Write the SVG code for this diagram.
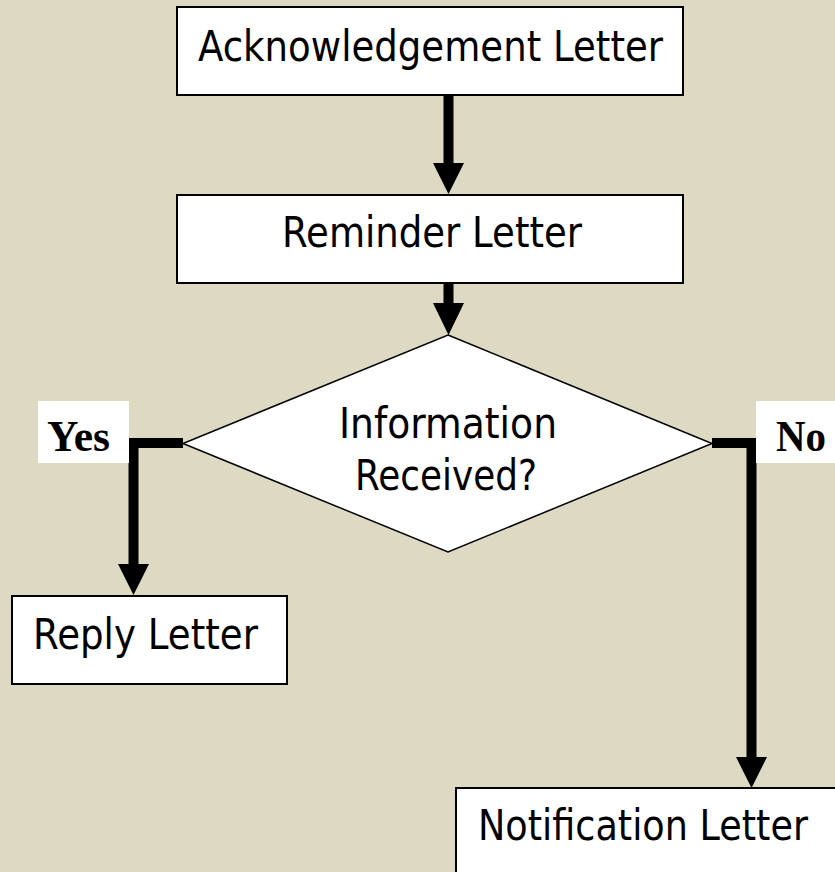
<svg xmlns="http://www.w3.org/2000/svg" width="835" height="872" viewBox="0 0 835 872">
<style>
.box{fill:#fff;stroke:#000;stroke-width:2}
.lbl{fill:#fff;stroke:none}
.t{font-family:"DejaVu Sans","Liberation Sans",sans-serif;font-size:42px;fill:#000}
.yn{font-family:"Liberation Serif","Times New Roman",serif;font-size:44px;font-weight:bold;fill:#000}
.conn{fill:none;stroke:#000;stroke-width:10}
.head{fill:#000}
</style>
<rect x="0" y="0" width="835" height="872" fill="#DDD9C3"/>
<g id="connectors">
  <line class="conn" x1="448.5" y1="95" x2="448.5" y2="165"/>
  <polygon class="head" points="433,163 464,163 448.5,194"/>
  <line class="conn" x1="448.5" y1="283" x2="448.5" y2="305"/>
  <polygon class="head" points="433,303 464,303 448.5,335"/>
  <polyline class="conn" points="183,443 133.5,443 133.5,566"/>
  <polygon class="head" points="118,564 149,564 133.5,595"/>
  <polyline class="conn" points="712,443 751.5,443 751.5,759"/>
  <polygon class="head" points="736,757 767,757 751.5,788"/>
</g>
<g id="ack">
  <rect class="box" x="177" y="7" width="506" height="88"/>
  <text class="t" x="198" y="61" textLength="465" lengthAdjust="spacingAndGlyphs">Acknowledgement Letter</text>
</g>
<g id="reminder">
  <rect class="box" x="177" y="195" width="506" height="88"/>
  <text class="t" x="282" y="247" textLength="300" lengthAdjust="spacingAndGlyphs">Reminder Letter</text>
</g>
<g id="decision">
  <polygon points="448,335 712,443.5 448,552 183,443.5" fill="#fff" stroke="#000" stroke-width="1.5"/>
  <text class="t" x="339" y="438" textLength="218" lengthAdjust="spacingAndGlyphs">Information</text>
  <text class="t" x="355" y="490" textLength="182" lengthAdjust="spacingAndGlyphs">Received?</text>
</g>
<g id="yes-label">
  <rect class="lbl" x="38" y="401" width="91" height="62"/>
  <text class="yn" x="47" y="451" textLength="63" lengthAdjust="spacingAndGlyphs">Yes</text>
</g>
<g id="no-label">
  <rect class="lbl" x="756" y="401" width="85" height="62"/>
  <text class="yn" x="776" y="451" textLength="50" lengthAdjust="spacingAndGlyphs">No</text>
</g>
<g id="reply">
  <rect class="box" x="12" y="596" width="275" height="88"/>
  <text class="t" x="33" y="649" textLength="225" lengthAdjust="spacingAndGlyphs">Reply Letter</text>
</g>
<g id="notification">
  <rect class="box" x="456" y="788" width="420" height="100"/>
  <text class="t" x="478" y="840" textLength="330" lengthAdjust="spacingAndGlyphs">Notification Letter</text>
</g>
</svg>
